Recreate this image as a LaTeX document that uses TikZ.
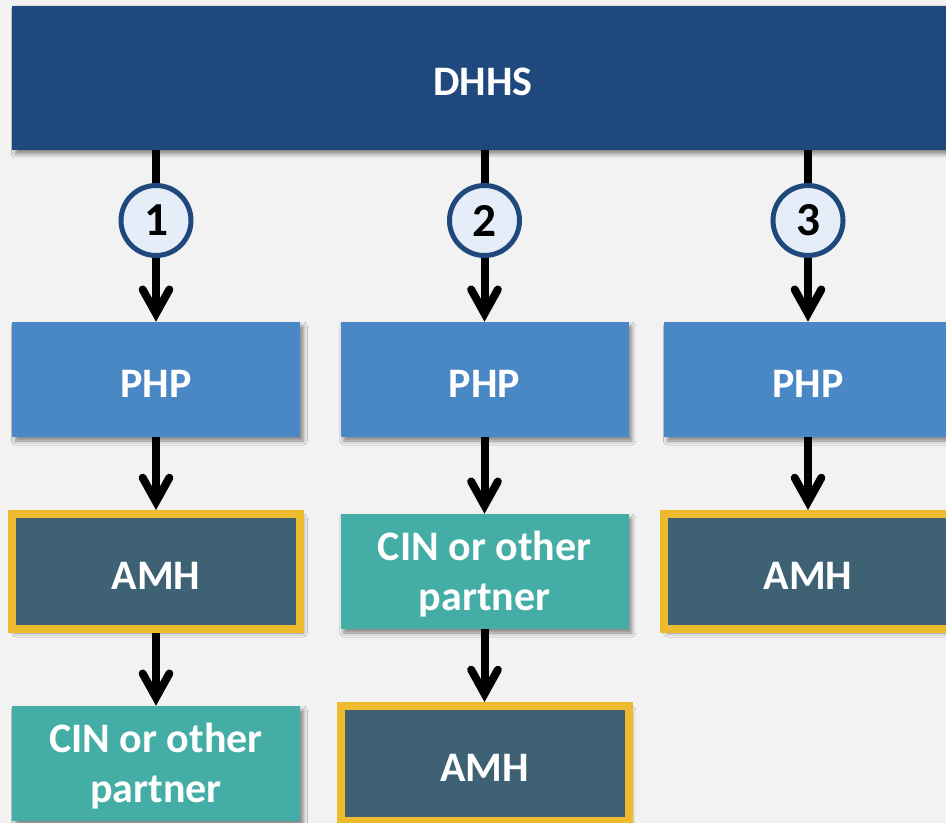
\documentclass[tikz,border=0pt]{standalone}
\usepackage{fontspec}
\setmainfont{Carlito}
\usetikzlibrary{arrows.meta,shadows.blur}
\definecolor{bgc}{HTML}{F2F2F2}
\definecolor{dhhsc}{HTML}{1F497D}
\definecolor{phpc}{HTML}{4A87C5}
\definecolor{amhc}{HTML}{3E6274}
\definecolor{goldc}{HTML}{EFBB2E}
\definecolor{tealc}{HTML}{44ADA6}
\definecolor{circf}{HTML}{E4EDF8}
\newcommand{\lowtxt}[1]{\raisebox{-3pt}[\height][\depth]{#1}}
\newcommand{\twolines}[2]{\raisebox{-3pt}[\height][\depth]{\begin{tabular}{@{}c@{}}#1\\#2\end{tabular}}}
\begin{document}
\begin{tikzpicture}[x=0.75pt,y=-0.75pt,
  shad/.style={blur shadow={shadow xshift=2.5pt,shadow yshift=-3pt,shadow blur radius=3pt,shadow opacity=45}},
  box/.style={rectangle, minimum width=216pt, minimum height=86.25pt, inner sep=0pt, text=white,
    font=\fontsize{31.5}{37.5}\selectfont\bfseries, shad},
  phpbox/.style={box, fill=phpc},
  amhbox/.style={box, fill=amhc, draw=goldc, line width=6pt},
  cinbox/.style={box, fill=tealc},
  numc/.style={circle, minimum size=52.5pt, inner sep=0pt, fill=circf, draw=dhhsc, line width=3.75pt,
    font=\fontsize{35.5}{40}\selectfont\bfseries},
  arr/.style={line width=6pt, -{Straight Barb[length=18pt,width=20pt,line cap=round]}}
]
\useasboundingbox (0,0) rectangle (946,823);
\fill[bgc] (0,0) rectangle (946,823);
\clip (0,0) rectangle (946,823);
\node[box, fill=dhhsc, minimum width=706.5pt, minimum height=108pt] (dhhs) at (483,78) {\lowtxt{DHHS}};
\node[phpbox] (p1) at (156,379.5) {\lowtxt{PHP}};
\node[phpbox] (p2) at (484.5,379.5) {\lowtxt{PHP}};
\node[phpbox] (p3) at (808,379.5) {\lowtxt{PHP}};
\node[amhbox] (a1) at (156,571.5) {\lowtxt{AMH}};
\node[cinbox] (c2) at (484.5,571.5) {\twolines{CIN or other}{partner}};
\node[amhbox] (a3) at (808,571.5) {\lowtxt{AMH}};
\node[cinbox] (c1) at (156,763.5) {\twolines{CIN or other}{partner}};
\node[amhbox] (a2) at (484.5,763.5) {\lowtxt{AMH}};
\draw[arr] (dhhs.south -| p1.north) -- (p1.north);
\draw[arr] (dhhs.south -| p2.north) -- (p2.north);
\draw[arr] (dhhs.south -| p3.north) -- (p3.north);
\draw[arr] (p1) -- (a1);
\draw[arr] (a1) -- (c1);
\draw[arr] (p2) -- (c2);
\draw[arr] (c2) -- (a2);
\draw[arr] (p3) -- (a3);
\node[numc] (n1) at (156,220.5) {1};
\node[numc] (n2) at (484.5,220.5) {2};
\node[numc] (n3) at (808,220.5) {3};
\end{tikzpicture}
\end{document}
